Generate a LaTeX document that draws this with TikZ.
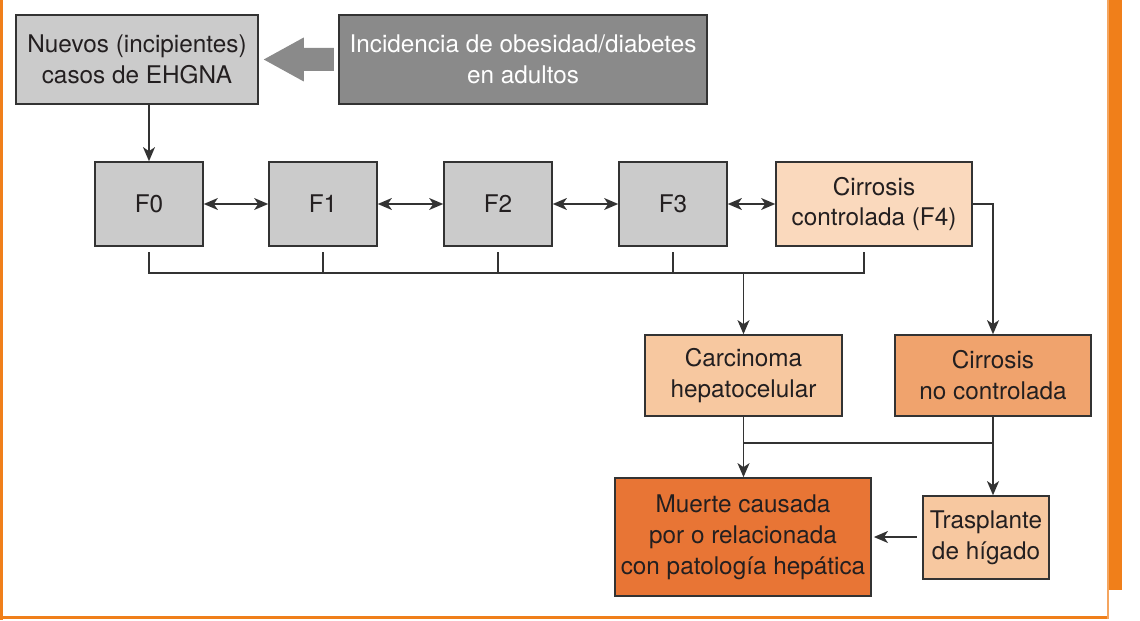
\documentclass[tikz,border=0pt]{standalone}
\usepackage{fontspec}
\setmainfont{TeX Gyre Heros}
\usetikzlibrary{arrows.meta, calc}
\definecolor{GrisClaro}{HTML}{CBCBCB}
\definecolor{GrisOscuro}{HTML}{8A8A8A}
\definecolor{Borde}{HTML}{333333}
\definecolor{Texto}{HTML}{231F20}
\definecolor{Durazno}{HTML}{FAD9BD}
\definecolor{Salmon}{HTML}{F7C8A0}
\definecolor{NaranjaMedio}{HTML}{F0A36D}
\definecolor{NaranjaFuerte}{HTML}{E87535}
\definecolor{Marco}{HTML}{F07F1A}

\tikzset{
  caja/.style={draw=Borde, line width=1.1pt, align=center, inner sep=0pt, text=Texto, font=\fontsize{17.3}{22}\selectfont},
  fase/.style={caja, fill=GrisClaro, minimum width=2.7cm, minimum height=2.1cm},
  linea/.style={draw=Borde, line width=1.2pt},
  flecha/.style={linea, -{Stealth[length=10pt, width=8.5pt, inset=2.8pt]}},
  doble/.style={linea, {Stealth[length=10pt, width=8.5pt, inset=2.8pt]}-{Stealth[length=10pt, width=8.5pt, inset=2.8pt]}}
}

\begin{document}
\begin{tikzpicture}
                \useasboundingbox (0,0) rectangle (28.5,15.5);
                % Marco
                \fill[Marco] (0,0) rectangle (0.075,15.5);
                \fill[Marco] (0,0.025) rectangle (27.7,0.1);
                \fill[Marco] (27.675,0.75) rectangle (28.05,15.5);
                \draw[Marco!70, line width=1.4pt] (27.6875,0.025) -- (27.6875,15.5);

                % Nodos
                \node[caja, fill=GrisClaro, minimum width=6.05cm, minimum height=2.225cm] (nuevos) at (3.425,14.0125) {Nuevos (incipientes)\\casos de EHGNA};
                \node[caja, fill=GrisOscuro, text=white, minimum width=9.2cm, minimum height=2.225cm] (incidencia) at (13.075,14.0125) {Incidencia de obesidad/diabetes\\en adultos};
                \foreach \i/\x in {0/3.725, 1/8.075, 2/12.45, 3/16.825}
                    \node[fase] (f\i) at (\x,10.4) {F\i};
                \node[caja, fill=Durazno, minimum width=4.9cm, minimum height=2.1cm] (f4) at (21.85,10.4) {Cirrosis\\controlada (F4)};
                \node[caja, fill=Salmon, minimum width=4.925cm, minimum height=2.025cm] (carcinoma) at (18.5875,6.1125) {Carcinoma\\hepatocelular};
                \node[caja, fill=NaranjaMedio, minimum width=4.9cm, minimum height=2.025cm] (nocontrol) at (24.825,6.1125) {Cirrosis\\no controlada};
                \node[caja, fill=NaranjaFuerte, minimum width=6.4cm, minimum height=2.95cm] (muerte) at (18.575,2.075) {Muerte causada\\por o relacionada\\con patología hepática};
                \node[caja, fill=Salmon, minimum width=3.15cm, minimum height=2.075cm] (trasplante) at (24.65,2.0625) {Trasplante\\de hígado};

                % Flecha gruesa
                \fill[GrisOscuro] ($(nuevos.east)+(0.125,0)$) -- ++(1,0.55) -- ++(0,-0.2625) -- ++(0.75,0) -- ++(0,-0.575) -- ++(-0.75,0) -- ++(0,-0.2625) -- cycle;

                % Conexiones
                \draw[flecha] (f0.north |- nuevos.south) -- (f0.north);
                \foreach \a/\b in {f0/f1, f1/f2, f2/f3, f3/f4}
                    \draw[doble] (\a) -- (\b);
                \coordinate (barra) at (0,8.675);
                \coordinate (f4pie) at ([xshift=-0.25cm]f4.south);
                \draw[linea] ([yshift=-4pt]f0.south) |- (f4pie |- barra) -- ([yshift=-4pt]f4pie);
                \foreach \n in {f1, f2, f3}
                    \draw[linea] ([yshift=-4pt]\n.south) -- (\n |- barra);
                \draw[flecha] (carcinoma.north |- barra) -- (carcinoma.north);
                \draw[flecha] (f4.east) -| (nocontrol.north);

                \coordinate (union) at (0,4.425);
                \draw[flecha] (carcinoma.south) -- (carcinoma.south |- muerte.north);
                \draw[flecha] (nocontrol.south) -- (nocontrol.south |- trasplante.north);
                \draw[linea] (carcinoma.south |- union) -- (nocontrol.south |- union);
                \draw[flecha, shorten <=4pt, shorten >=1.5pt] (trasplante.west |- muerte.east) -- (muerte.east);
            \end{tikzpicture}
\end{document}
